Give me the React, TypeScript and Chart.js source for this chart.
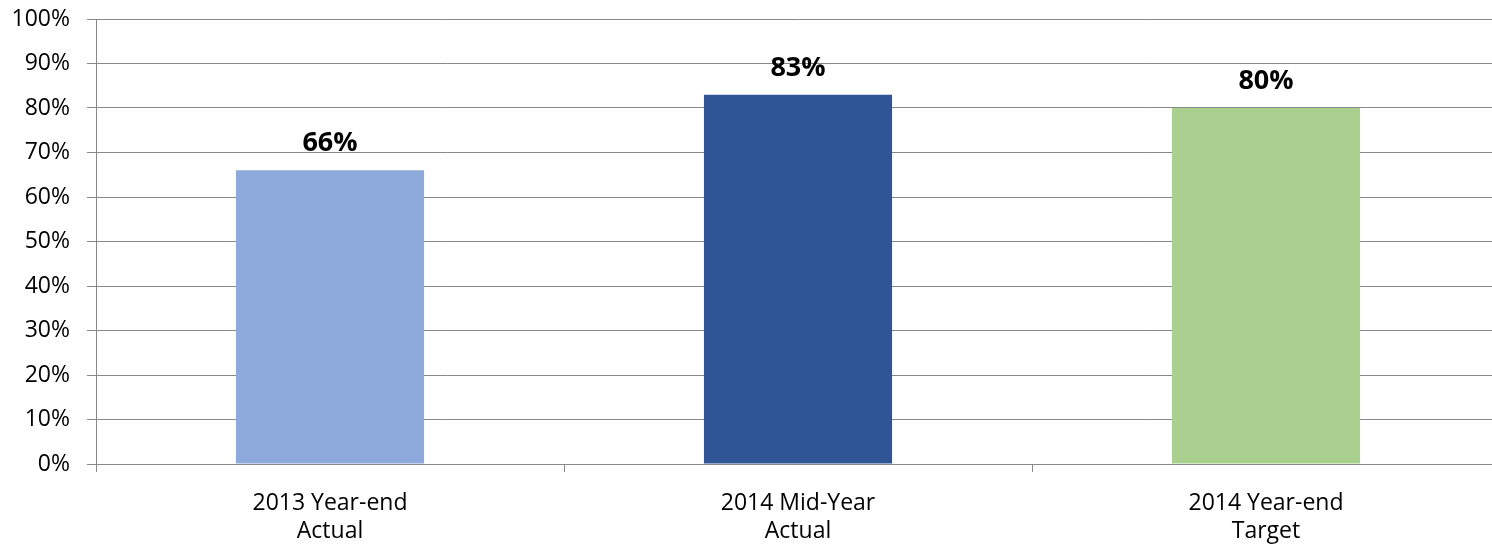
import React, { useEffect, useRef } from "react";
import { Chart, registerables } from "chart.js";

Chart.register(...registerables);

const categories: string[][] = [
  ["2013 Year-end", "Actual"],
  ["2014 Mid-Year", "Actual"],
  ["2014 Year-end", "Target"],
];
const values: number[] = [66, 83, 80];
const valueLabels: string[] = ["66%", "83%", "80%"];
const barColors: string[] = ["#8EA9DB", "#2F5597", "#A9D08E"];
const yTicks: number[] = [0, 10, 20, 30, 40, 50, 60, 70, 80, 90, 100];

const FONT = "'Open Sans', 'DejaVu Sans', sans-serif";
const GRID = "#888888";

const valueLabelPlugin = {
  id: "valueLabels",
  afterDatasetsDraw(chart: any) {
    const ctx = chart.ctx;
    const meta = chart.getDatasetMeta(0);
    ctx.save();
    ctx.font = `bold 27px ${FONT}`;
    ctx.fillStyle = "#000000";
    ctx.textAlign = "center";
    ctx.textBaseline = "alphabetic";
    meta.data.forEach((bar: any, i: number) => {
      ctx.fillText(valueLabels[i], bar.x, bar.y - 19);
    });
    ctx.restore();
  },
};

export default function App() {
  const ref = useRef<HTMLCanvasElement | null>(null);

  useEffect(() => {
    document.body.style.margin = "0";
    document.body.style.overflow = "hidden";
    if (!ref.current) return;
    const chart = new Chart(ref.current, {
      type: "bar",
      data: {
        labels: categories as any,
        datasets: [
          {
            data: values,
            backgroundColor: barColors,
            borderWidth: 0,
            categoryPercentage: 1,
            barPercentage: 0.402,
          },
        ],
      },
      options: {
        animation: false,
        responsive: false,
        maintainAspectRatio: false,
        devicePixelRatio: 1,
        layout: { padding: 0 },
        plugins: {
          legend: { display: false },
          tooltip: { enabled: false },
          title: { display: false },
        },
        scales: {
          x: {
            grid: {
              offset: true,
              drawOnChartArea: false,
              drawTicks: true,
              tickLength: 8,
              color: GRID,
            },
            border: { color: GRID, width: 1 },
            ticks: {
              color: "#000000",
              font: { family: FONT, size: 23, lineHeight: 1.22 },
              padding: 17,
              maxRotation: 0,
              autoSkip: false,
            },
            afterFit(scale: any) {
              scale.height = 81;
              scale.paddingLeft = 0;
              scale.paddingRight = 0;
            },
          },
          y: {
            min: 0,
            max: 100,
            afterBuildTicks(scale: any) {
              scale.ticks = yTicks.map((v) => ({ value: v }));
            },
            grid: {
              color: GRID,
              tickLength: 9,
              drawTicks: true,
            },
            border: { color: GRID, width: 1 },
            ticks: {
              color: "#000000",
              font: { family: FONT, size: 23 },
              padding: 17,
              callback: (v: any) => `${v}%`,
            },
            afterFit(scale: any) {
              scale.width = 96;
              scale.paddingTop = 19;
              scale.paddingBottom = 0;
            },
          },
        },
      },
      plugins: [valueLabelPlugin],
    });
    return () => chart.destroy();
  }, []);

  return (
    <div style={{ width: 1492, height: 545, overflow: "hidden", position: "relative", background: "#ffffff" }}>
      <canvas ref={ref} width={1500} height={545} style={{ display: "block", width: 1500, height: 545 }} />
    </div>
  );
}
